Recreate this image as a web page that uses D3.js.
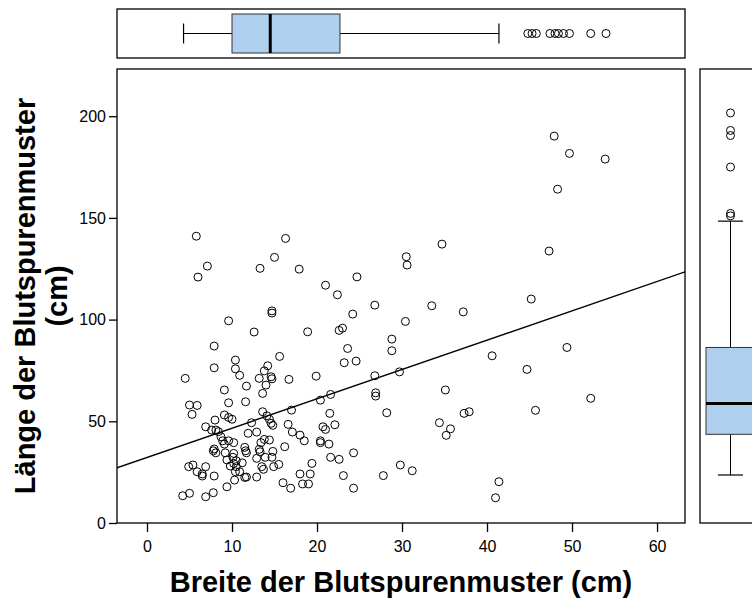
<!DOCTYPE html>
<html>
<head>
<meta charset="utf-8">
<script src="https://cdnjs.cloudflare.com/ajax/libs/d3/7.8.5/d3.min.js"></script>
<style>
  body { margin: 0; background: #fff; }
  svg { display: block; }
  text { font-family: "Liberation Sans", Arial, sans-serif; fill: #000; }
</style>
</head>
<body>
<svg id="chart" width="752" height="598"></svg>
<script>
// Width of each bloodstain pattern (cm)
const breite = [
  47.9, 49.7, 53.9, 48.3, 47.3, 45.2, 40.6, 49.4, 44.7, 52.2, 45.7, 41.4, 41.0,
  17.9, 34.7, 30.5, 30.6, 24.7, 21.0, 22.4, 26.8, 33.5, 37.2, 24.2, 30.4, 18.9,
  22.6, 23.0, 23.6, 28.8, 28.8, 23.2, 24.6, 19.9, 26.8, 29.7,
  35.1, 20.4, 21.6, 26.9, 26.9, 21.5, 28.2, 37.3, 37.9, 34.4, 35.7, 35.2, 20.7,
  21.0, 22.1, 18.0, 18.5, 20.4, 20.4, 21.4, 24.3, 21.6, 22.6, 19.4, 29.8, 31.2,
  19.2, 18.0, 23.1, 27.8, 18.3, 19.0, 24.3,
  5.8, 16.3, 15.0, 7.1, 13.3, 6.0, 14.7, 14.7, 9.6, 12.6, 7.9, 15.6, 10.4, 10.4,
  7.9, 14.2, 13.8, 10.9, 4.5, 13.2, 14.6, 14.7, 16.7,
  14.0, 9.1, 11.7, 13.6, 9.6, 11.6, 5.0, 5.9, 5.3, 13.6, 17.0, 9.1, 9.6, 10.0,
  14.1, 14.4, 8.0, 14.6, 14.8, 12.3, 16.6, 6.9, 7.6, 8.1, 8.4, 11.9, 12.9, 17.1,
  8.7, 8.9, 9.6, 10.2, 13.8, 14.4, 13.4, 9.1, 16.2, 11.5, 13.2, 11.6, 7.9, 7.8,
  8.1, 9.2, 10.2, 14.8, 13.3, 10.1, 11.7, 12.9, 13.9, 14.7, 9.4, 10.5, 10.2, 11.2,
  4.9, 5.4, 6.9, 9.8, 10.5, 13.5, 13.7, 14.9, 15.5, 5.9, 6.5, 6.5, 10.9, 10.4,
  7.9, 10.3, 11.5, 11.7, 12.9, 16.0, 16.9, 9.4, 4.2, 5.0, 6.9, 7.8
];
// Length of each bloodstain pattern (cm)
const laenge = [
  190.2, 181.7, 178.9, 164.1, 133.7, 110.1, 82.2, 86.3, 75.5, 61.3, 55.4, 20.3, 12.4,
  124.8, 137.1, 130.9, 126.8, 121.0, 116.9, 112.2, 107.1, 106.8, 103.8, 102.7, 99.1, 94.0,
  94.7, 95.8, 85.8, 90.4, 84.7, 78.8, 79.6, 72.2, 72.4, 74.3,
  65.4, 60.4, 63.2, 64.0, 62.4, 53.9, 54.2, 53.9, 54.7, 49.3, 46.3, 43.1, 47.3,
  46.0, 48.3, 43.2, 40.4, 40.4, 39.5, 38.8, 34.5, 32.3, 31.3, 29.3, 28.5, 25.7,
  24.1, 24.1, 23.3, 23.3, 19.2, 19.2, 17.1,
  141.0, 139.9, 130.6, 126.3, 125.2, 120.9, 104.3, 103.2, 99.4, 93.9, 87.0, 81.9, 80.1, 75.8,
  76.3, 77.3, 74.8, 72.6, 71.1, 71.1, 71.9, 70.9, 70.6,
  67.8, 65.4, 67.3, 63.7, 59.1, 59.6, 58.0, 57.8, 53.4, 54.7, 55.5, 53.1, 51.9, 51.0,
  52.7, 51.0, 50.6, 49.0, 48.0, 49.3, 48.5, 47.3, 45.7, 45.7, 44.9, 44.1, 44.7, 44.7,
  42.4, 40.4, 40.4, 39.5, 41.1, 40.8, 39.5, 38.8, 37.5, 37.2, 36.2, 35.5, 36.4, 35.5,
  34.5, 34.5, 34.2, 35.2, 35.0, 32.3, 34.5, 31.8, 32.3, 32.3, 31.0, 30.6, 29.3, 29.6,
  27.7, 28.5, 27.7, 28.0, 27.7, 27.7, 26.4, 27.7, 28.8, 25.2, 24.1, 23.1, 25.2, 25.2,
  23.1, 21.1, 22.4, 22.6, 22.6, 19.8, 17.1, 17.8, 13.4, 14.6, 12.9, 14.9
];

const xTicks = [0, 10, 20, 30, 40, 50, 60];
const yTicks = [0, 50, 100, 150, 200];

// Linear fit of length on width
const fitIntercept = 32.2;
const fitSlope = 1.442;

// Marginal box plots: [lower whisker, Q1, median, Q3, upper whisker]
const breiteStats = [4.3, 10.0, 14.5, 22.7, 41.4];
const breiteOutliers = [44.8, 45.3, 45.8, 47.4, 48.0, 48.4, 49.0, 49.7, 52.2, 54.0];
const laengeStats = [23.6, 43.6, 58.8, 86.3, 148.4];
const laengeOutliers = [151.0, 152.2, 175.0, 190.5, 193.0, 201.6];

const svg = d3.select("#chart");

const plot = { left: 117, right: 685, top: 69, bottom: 523 };
const x = d3.scaleLinear().domain([-3.53, 63.29]).range([plot.left, plot.right]);
const y = d3.scaleLinear().domain([0, 223.2]).range([plot.bottom, plot.top]);

const boxFill = "#aed0ee";
const frameW = 1.3;
const markR = 4;

// ---- main scatter panel ----
svg.append("defs").append("clipPath").attr("id", "plotClip")
  .append("rect")
  .attr("x", plot.left).attr("y", plot.top)
  .attr("width", plot.right - plot.left).attr("height", plot.bottom - plot.top);

const pts = breite.map((b, i) => [b, laenge[i]]);

svg.append("g")
  .selectAll("circle")
  .data(pts)
  .join("circle")
  .attr("cx", d => x(d[0]))
  .attr("cy", d => y(d[1]))
  .attr("r", markR)
  .attr("fill", "none")
  .attr("stroke", "#000")
  .attr("stroke-width", 1);

const xd = x.domain();
svg.append("line")
  .attr("clip-path", "url(#plotClip)")
  .attr("x1", x(xd[0])).attr("y1", y(fitIntercept + fitSlope * xd[0]))
  .attr("x2", x(xd[1])).attr("y2", y(fitIntercept + fitSlope * xd[1]))
  .attr("stroke", "#000").attr("stroke-width", 1.4);

svg.append("rect")
  .attr("x", plot.left).attr("y", plot.top)
  .attr("width", plot.right - plot.left).attr("height", plot.bottom - plot.top)
  .attr("fill", "none").attr("stroke", "#000").attr("stroke-width", frameW);

// axes
const xAxis = svg.append("g")
  .attr("transform", `translate(0,${plot.bottom})`)
  .call(d3.axisBottom(x).tickValues(xTicks).tickSize(9).tickPadding(9));
const yAxis = svg.append("g")
  .attr("transform", `translate(${plot.left},0)`)
  .call(d3.axisLeft(y).tickValues(yTicks).tickSize(8).tickPadding(3));

[xAxis, yAxis].forEach(g => {
  g.select(".domain").remove();
  g.selectAll(".tick line").attr("stroke", "#000").attr("stroke-width", 1.3);
  g.selectAll(".tick text")
    .attr("font-family", "'Liberation Sans', Arial, sans-serif")
    .attr("font-size", 16).attr("fill", "#000");
});

// axis titles
svg.append("text")
  .attr("x", (plot.left + plot.right) / 2).attr("y", 592)
  .attr("text-anchor", "middle")
  .attr("font-size", 29).attr("font-weight", "bold")
  .text("Breite der Blutspurenmuster (cm)");

const yTitle = svg.append("text")
  .attr("transform", `translate(0,${(plot.top + plot.bottom) / 2}) rotate(-90)`)
  .attr("text-anchor", "middle")
  .attr("font-size", 29).attr("font-weight", "bold");
yTitle.append("tspan").attr("x", 0).attr("y", 35).text("Länge der Blutspurenmuster");
yTitle.append("tspan").attr("x", 0).attr("y", 67).text("(cm)");

// ---- top marginal box plot (width) ----
const topPanel = { y0: 9, y1: 58 };
const topMid = (topPanel.y0 + topPanel.y1) / 2;
svg.append("rect")
  .attr("x", plot.left).attr("y", topPanel.y0)
  .attr("width", plot.right - plot.left).attr("height", topPanel.y1 - topPanel.y0)
  .attr("fill", "none").attr("stroke", "#000").attr("stroke-width", frameW);

const tb = svg.append("g");
tb.append("line").attr("x1", x(breiteStats[0])).attr("x2", x(breiteStats[1]))
  .attr("y1", topMid).attr("y2", topMid).attr("stroke", "#000");
tb.append("line").attr("x1", x(breiteStats[3])).attr("x2", x(breiteStats[4]))
  .attr("y1", topMid).attr("y2", topMid).attr("stroke", "#000");
[breiteStats[0], breiteStats[4]].forEach(v => {
  tb.append("line").attr("x1", x(v)).attr("x2", x(v))
    .attr("y1", topMid - 10).attr("y2", topMid + 10).attr("stroke", "#000").attr("stroke-width", 1.2);
});
tb.append("rect")
  .attr("x", x(breiteStats[1])).attr("y", topPanel.y0 + 5)
  .attr("width", x(breiteStats[3]) - x(breiteStats[1])).attr("height", topPanel.y1 - topPanel.y0 - 10)
  .attr("fill", boxFill).attr("stroke", "#333").attr("stroke-width", 1);
tb.append("line").attr("x1", x(breiteStats[2])).attr("x2", x(breiteStats[2]))
  .attr("y1", topPanel.y0 + 5).attr("y2", topPanel.y1 - 5).attr("stroke", "#000").attr("stroke-width", 3);
tb.selectAll("circle.out").data(breiteOutliers).join("circle")
  .attr("cx", d => x(d)).attr("cy", topMid).attr("r", markR)
  .attr("fill", "none").attr("stroke", "#000");

// ---- right marginal box plot (length) ----
const side = { x0: 700, x1: 770 };
const sideMid = 730.5;
svg.append("rect")
  .attr("x", side.x0).attr("y", plot.top)
  .attr("width", side.x1 - side.x0).attr("height", plot.bottom - plot.top)
  .attr("fill", "none").attr("stroke", "#000").attr("stroke-width", frameW);

const rb = svg.append("g");
rb.append("line").attr("x1", sideMid).attr("x2", sideMid)
  .attr("y1", y(laengeStats[0])).attr("y2", y(laengeStats[1])).attr("stroke", "#000");
rb.append("line").attr("x1", sideMid).attr("x2", sideMid)
  .attr("y1", y(laengeStats[3])).attr("y2", y(laengeStats[4])).attr("stroke", "#000");
[laengeStats[0], laengeStats[4]].forEach(v => {
  rb.append("line").attr("x1", sideMid - 12.5).attr("x2", sideMid + 12.5)
    .attr("y1", y(v)).attr("y2", y(v)).attr("stroke", "#000").attr("stroke-width", 1.2);
});
rb.append("rect")
  .attr("x", side.x0 + 6).attr("y", y(laengeStats[3]))
  .attr("width", 49).attr("height", y(laengeStats[1]) - y(laengeStats[3]))
  .attr("fill", boxFill).attr("stroke", "#333").attr("stroke-width", 1);
rb.append("line").attr("x1", side.x0 + 6).attr("x2", side.x0 + 55)
  .attr("y1", y(laengeStats[2])).attr("y2", y(laengeStats[2]))
  .attr("stroke", "#000").attr("stroke-width", 3);
rb.selectAll("circle.out").data(laengeOutliers).join("circle")
  .attr("cx", sideMid).attr("cy", d => y(d)).attr("r", markR)
  .attr("fill", "none").attr("stroke", "#000");
</script>
</body>
</html>
